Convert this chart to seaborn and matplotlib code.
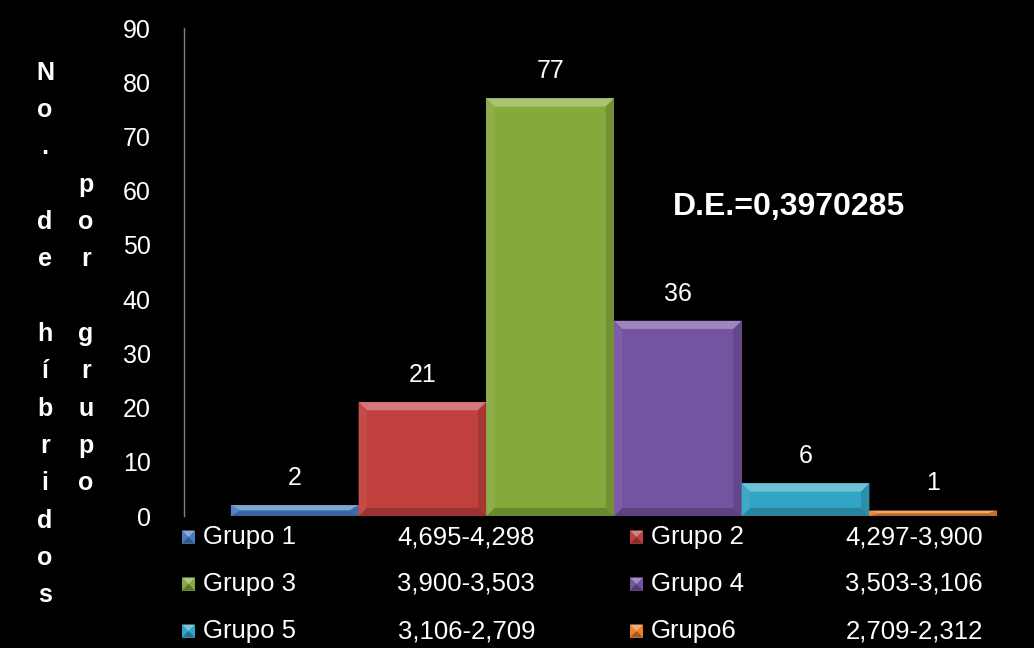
import matplotlib
matplotlib.use("Agg")
import matplotlib.pyplot as plt
from matplotlib.patches import Polygon, Rectangle
from matplotlib.colors import to_rgb
import numpy as np
import pandas as pd
import seaborn as sns

# Data
grupos = ["Grupo 1", "Grupo 2", "Grupo 3", "Grupo 4", "Grupo 5", "Grupo6"]
rangos = ["4,695-4,298", "4,297-3,900", "3,900-3,503",
          "3,503-3,106", "3,106-2,709", "2,709-2,312"]
hibridos = [2, 21, 77, 36, 6, 1]
colores = ["#4a7dc0", "#c0403d", "#86a93c", "#7453a0", "#33a5c4", "#e8822e"]
y_ticks = [0, 10, 20, 30, 40, 50, 60, 70, 80, 90]
desviacion = "D.E.=0,3970285"
etiqueta_y1 = "No. de híbridos"
etiqueta_y2 = "por grupo"

W, H = 1034, 648

sns.set_theme(style="white", rc={"figure.facecolor": "black",
                                 "axes.facecolor": "black",
                                 "savefig.facecolor": "black"})
plt.rcParams["font.family"] = ["Liberation Sans", "DejaVu Sans"]


def mix(c, target, amt):
    c = np.array(to_rgb(c))
    t = np.array(to_rgb(target))
    return tuple(c * (1 - amt) + t * amt)


fig = plt.figure(figsize=(W / 100, H / 100), dpi=100)
ax = fig.add_axes([184 / W, 132 / H, (W - 184) / W, 488 / H])

df = pd.DataFrame({"grupo": grupos, "n": hibridos})
sns.barplot(data=df, x="grupo", y="n", hue="grupo", palette=colores,
            saturation=1, width=1.0, legend=False, ax=ax,
            linewidth=0, edgecolor="none")

# Bevelled look on every bar
for patch, col in zip(ax.patches, colores):
    x0, w, h = patch.get_x(), patch.get_width(), patch.get_height()
    bx = 0.065
    by = min(1.5, h * 0.45)
    x1 = x0 + w
    faces = [
        ([(x0, h), (x1, h), (x1 - bx, h - by), (x0 + bx, h - by)], mix(col, "white", 0.3)),
        ([(x0, 0), (x1, 0), (x1 - bx, by), (x0 + bx, by)], mix(col, "black", 0.2)),
        ([(x0, 0), (x0 + bx, by), (x0 + bx, h - by), (x0, h)], mix(col, "white", 0.06)),
        ([(x1, 0), (x1 - bx, by), (x1 - bx, h - by), (x1, h)], mix(col, "black", 0.14)),
    ]
    for pts, fc in faces:
        ax.add_patch(Polygon(pts, closed=True, facecolor=fc, edgecolor="none", zorder=3))

for cont in ax.containers:
    ax.bar_label(cont, padding=11, color="white", fontsize=18)

ax.set_xlim(-0.5 - 47 / 128, 5.5 + 37 / 128)
ax.set_ylim(0, 90)
ax.set_yticks(y_ticks)
ax.set_xticks([])
ax.set_xlabel("")
ax.set_ylabel("")
ax.tick_params(axis="y", length=0, pad=24, labelsize=18, labelcolor="white")
for s in ["top", "right", "bottom"]:
    ax.spines[s].set_visible(False)
ax.spines["left"].set_color("#808080")
ax.spines["left"].set_linewidth(1.0)

# Standard deviation note
fig.text(789 / W, 1 - 207 / H, desviacion, color="white", fontsize=23,
         fontweight="bold", ha="center", va="center")

# Vertical stacked axis title in two columns
lbl1 = "\n".join(etiqueta_y1)
lbl2 = "\n".join(etiqueta_y2)
for xc, txt in [(45, lbl1), (86, lbl2)]:
    fig.text(xc / W, 1 - 334 / H, txt, color="white", fontsize=18,
             fontweight="bold", ha="center", va="center",
             multialignment="center", linespacing=1.7)

# Legend: two columns of (marker, name, range)
row_y = [537, 584, 631]
mark_x = [182, 630]
range_right = [535, 983]
sq = 13
for i, (g, r, col) in enumerate(zip(grupos, rangos, colores)):
    row, c = divmod(i, 2)
    yc = row_y[row]
    mx = mark_x[c]
    x0, y0 = mx / W, (H - yc - sq / 2) / H
    sw, sh = sq / W, sq / H
    fig.add_artist(Rectangle((x0, y0), sw, sh, transform=fig.transFigure,
                             facecolor=col, edgecolor="none"))
    cx, cy = x0 + sw / 2, y0 + sh / 2
    fig.add_artist(Polygon([(x0, y0 + sh), (x0 + sw, y0 + sh), (cx, cy)],
                           closed=True, transform=fig.transFigure,
                           facecolor=mix(col, "white", 0.35), edgecolor="none"))
    fig.add_artist(Polygon([(x0, y0), (x0 + sw, y0), (cx, cy)],
                           closed=True, transform=fig.transFigure,
                           facecolor=mix(col, "black", 0.3), edgecolor="none"))
    fig.text((mx + 21) / W, 1 - yc / H, g, color="white", fontsize=18.5,
             ha="left", va="center")
    fig.text(range_right[c] / W, 1 - yc / H, r, color="white", fontsize=18.5,
             ha="right", va="center")

fig.savefig("out.png", dpi=100)
